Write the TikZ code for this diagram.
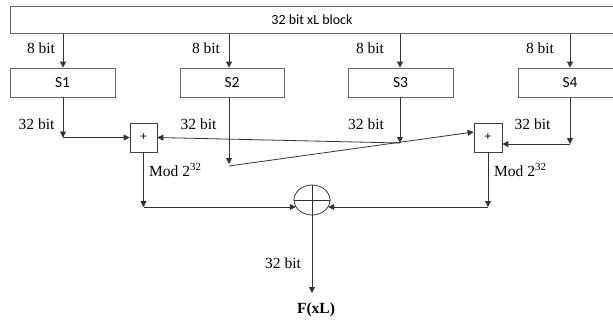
\documentclass[tikz,border=0pt]{standalone}
\usepackage{fontspec}
\setmainfont{Liberation Serif}
\newfontfamily\calfont{Carlito}
\usetikzlibrary{arrows.meta,shapes.geometric}
\begin{document}
\begin{tikzpicture}[x=1pt,y=-1pt,
  boxline/.style={draw=black!60,line width=0.8pt},
  sbox/.style={boxline,rectangle,minimum height=29pt,inner sep=0pt,font=\calfont\fontsize{15.5}{17}\selectfont},
  pbox/.style={boxline,draw=black!75,rectangle,minimum width=27pt,minimum height=29pt,inner sep=0pt,font=\calfont\fontsize{12.5}{14}\selectfont},
  arr/.style={draw=black!80,line width=0.8pt,-{Triangle[length=6pt,width=6pt]}},
  ln/.style={draw=black!80,line width=0.8pt},
  lbl/.style={font=\fontsize{15.5}{18}\selectfont,inner sep=0pt}]
\useasboundingbox (0,0) rectangle (613,322);
\clip (0,0) rectangle (613,322);
% top block
\node[boxline,rectangle,minimum width=612pt,minimum height=27pt,inner sep=0pt,anchor=north west] (top) at (10,6) {};
\node[inner sep=0pt,font=\calfont\fontsize{14}{16}\selectfont] (toplbl) at (312,20) {32 bit xL block};
% S boxes
\node[sbox,minimum width=105pt] (s1) at (62.5,82.5) {S1};
\node[sbox,minimum width=104pt] (s2) at (232,82.5) {S2};
\node[sbox,minimum width=105pt] (s3) at (400.5,82.5) {S3};
\node[sbox,minimum width=104pt] (s4) at (570,82.5) {S4};
% adders
\node[pbox] (p1) at (143.5,137.5) {+};
\node[pbox,minimum width=28pt] (p2) at (488,137.5) {+};
% xor
\node[draw=black!80,line width=0.8pt,ellipse,minimum width=36pt,minimum height=30pt,inner sep=0pt] (xo) at (312,200) {};
\draw[ln] (xo.north) -- (xo.south);
\draw[ln] (xo.west) -- (xo.east);
% arrows top -> S
\draw[arr] (top.south -| 63,0) -- (s1.north -| 63,0);
\draw[arr] (top.south -| 229,0) -- (s2.north -| 229,0);
\draw[arr] (top.south -| 400,0) -- (s3.north -| 400,0);
\draw[arr] (top.south -| 570,0) -- (s4.north -| 570,0);
\node[lbl] (b1) at (41,48) {8 bit};
\node[lbl] (b2) at (206,48) {8 bit};
\node[lbl] (b3) at (370,48) {8 bit};
\node[lbl] (b4) at (540,48) {8 bit};
% S outputs
\coordinate (c1) at (63,137.5);
\coordinate (c2) at (229,164);
\coordinate (c2b) at (229,166);
\coordinate (c3) at (400,143);
\coordinate (c4) at (570,144);
\draw[arr] (s1.south -| c1) -- (c1);
\draw[arr] (c1) -- (p1.west);
\draw[arr] (s2.south -| c2) -- (c2);
\draw[arr] (c2b) -- ([yshift=5.5pt]p2.west);
\draw[arr] (s3.south -| c3) -- (c3);
\draw[arr] (c3) -- (p1.east);
\draw[arr] (s4.south -| c4) -- (c4);
\draw[arr] (c4) -- (c4 -| p2.east);
\node[lbl] (d1) at (36.5,124) {32 bit};
\node[lbl] (d2) at (198.5,124) {32 bit};
\node[lbl] (d3) at (366,124) {32 bit};
\node[lbl] (d4) at (532.5,124) {32 bit};
% adders -> xor
\coordinate (c5) at (143.5,207);
\coordinate (c6) at (488,207);
\draw[arr] (p1.south) -- (c5);
\draw[arr] (c5) -- (c5 -| xo.204);
\draw[arr] (p2.south) -- (c6);
\draw[arr] (c6) -- (c6 -| xo.-24);
\node[lbl,anchor=west] (m1) at (149,170) {Mod 2\textsuperscript{32}};
\node[lbl,anchor=west] (m2) at (494,170) {Mod 2\textsuperscript{32}};
% output
\coordinate (c7) at (312,293);
\draw[arr] (xo.south) -- (c7);
\node[lbl] (o1) at (283,263) {32 bit};
\node[lbl,font=\bfseries\fontsize{15.5}{18}\selectfont] (F) at (316,310) {F(xL)};
\end{tikzpicture}
\end{document}
